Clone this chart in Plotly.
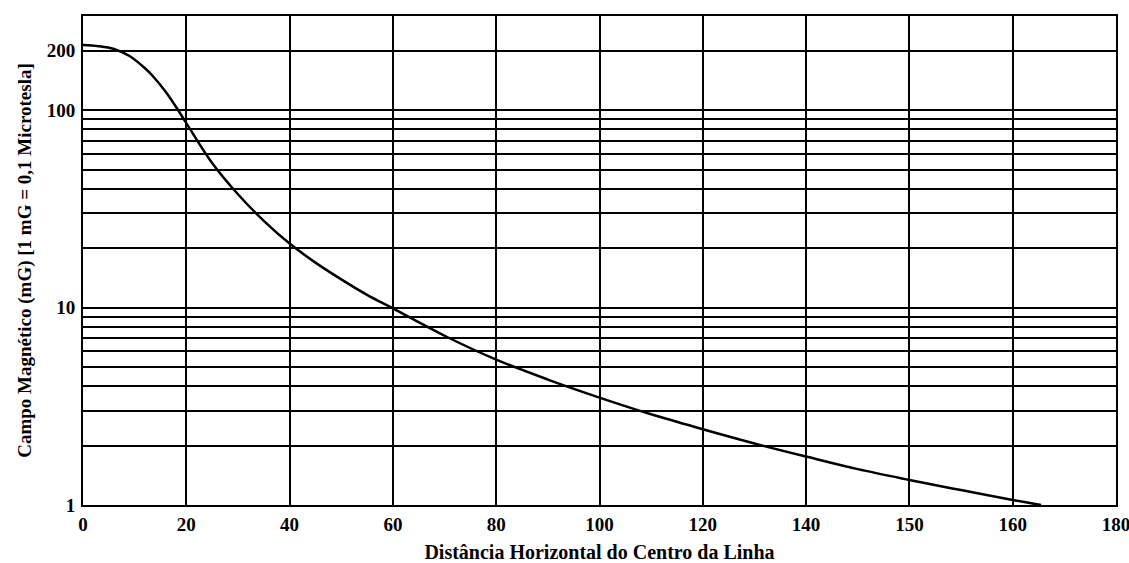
import plotly.graph_objects as go

# x positions in axis units (each grid column = 20 units), printed tick labels below
x_tick_pos = [0, 20, 40, 60, 80, 100, 120, 140, 160, 180, 200]
x_tick_text = ["0", "20", "40", "60", "80", "100", "120", "140", "150", "160", "180"]

y_major = [1, 10, 100, 200]
y_major_text = ["1", "10", "100", "200"]
y_minor = [2, 3, 4, 5, 6, 7, 8, 9, 20, 30, 40, 50, 60, 70, 80, 90]

# curve
dist = [0, 3, 6, 9, 12, 13.5, 16, 18, 20, 25, 30, 35, 40, 45, 50, 55, 60, 70, 80, 90,
        100, 110, 120, 130, 140, 150, 160, 170, 180, 185.5]
field = [214, 211, 204, 188, 163, 149, 124, 104, 86, 54, 37.5, 27.5, 21.1, 16.9, 13.9, 11.6,
         9.9, 7.2, 5.45, 4.32, 3.5, 2.88, 2.42, 2.05, 1.76, 1.52, 1.34, 1.19, 1.06, 1.0]

fig = go.Figure()
fig.add_trace(go.Scatter(x=dist, y=field, mode="lines",
                         line=dict(color="black", width=2.5, shape="spline", smoothing=1.0),
                         showlegend=False, hoverinfo="skip"))

tick_font = dict(family="Liberation Serif", size=19, color="black", weight="bold")
xtitle_font = dict(family="Liberation Serif", size=20, color="black", weight="bold")
ytitle_font = dict(family="Liberation Serif", size=19, color="black", weight="bold")

fig.update_layout(
    width=1129, height=563,
    margin=dict(l=83, r=13, t=16, b=58),
    paper_bgcolor="white", plot_bgcolor="white",
    showlegend=False,
)
fig.update_xaxes(
    range=[0, 200], tickmode="array", tickvals=x_tick_pos, ticktext=x_tick_text,
    tickfont=tick_font, ticks="", ticklabelstandoff=1, automargin=False,
    ticklabeloverflow="allow",
    showgrid=True, gridcolor="black", gridwidth=2,
    showline=True, linecolor="black", linewidth=2, mirror=True, zeroline=False,
    title=dict(text="Distância Horizontal do Centro da Linha", font=xtitle_font, standoff=13),
)
fig.update_yaxes(
    type="log", range=[0, 2.477], tickmode="array", tickvals=y_major, ticktext=y_major_text,
    tickfont=tick_font, ticks="", ticklabelstandoff=2, automargin=False,
    showgrid=True, gridcolor="black", gridwidth=2,
    minor=dict(tickmode="array", tickvals=y_minor, showgrid=True, gridcolor="black", gridwidth=2, ticks=""),
    showline=True, linecolor="black", linewidth=2, mirror=True, zeroline=False,
    title=dict(text="Campo Magnético (mG) [1 mG = 0,1 Microtesla]", font=ytitle_font, standoff=10),
)

fig.write_html("out.html")
